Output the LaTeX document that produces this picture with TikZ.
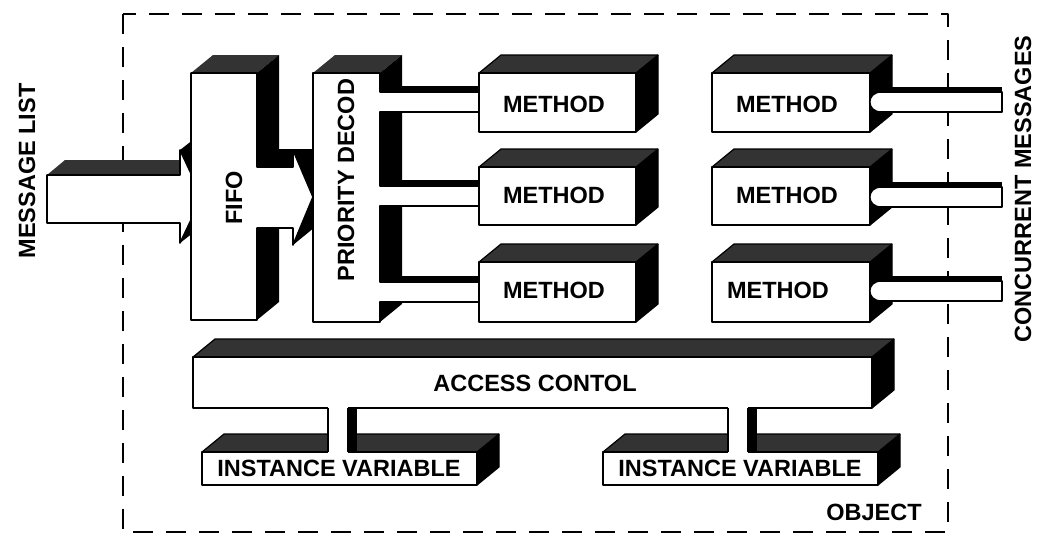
\documentclass[tikz,border=0pt]{standalone}
\usepackage{fontspec}
\setmainfont{Liberation Sans}
\newcommand{\solidbox}[4]{%
  \fill[sidefill] (#3,#2) -- ++(22,-18) -- (#3+22,#4-18) -- (#3,#4) -- cycle;
  \fill[topfill] (#1,#2) -- ++(22,-18) -- (#3+22,#2-18) -- (#3,#2) -- cycle;
  \draw[edgeline] (#1,#2) -- ++(22,-18) -- (#3+22,#2-18) -- (#3+22,#4-18) -- (#3,#4);
  \draw[edgeline] (#3,#2) -- ++(22,-18);
  \filldraw[frontface] (#1,#2) rectangle (#3,#4);
}
\begin{document}
\begin{tikzpicture}[x=1pt, y=-1pt, line join=round,
    every node/.style={font=\fontsize{23.5}{27}\selectfont\bfseries, inner sep=0pt},
    frontface/.style={fill=white, draw=black, line width=1.6pt},
    topfill/.style={fill=black!80},
    sidefill/.style={fill=black},
    edgeline/.style={draw=black, line width=1.2pt}]
    \useasboundingbox (0,0) rectangle (1039,546);
    \fill[white] (0,0) rectangle (1039,546);
    \draw[line width=1.4pt, dash pattern=on 20pt off 13pt] (123,14) rectangle (948,532);
    % message list arrow
    \fill[topfill] (47,175) -- (65,160) -- (190,160) -- (190,175) -- cycle;
    \fill[sidefill] (180,150) -- (198,136) -- (220,183) -- (198,229) -- (180,243) -- (202,197) -- cycle;
    \filldraw[frontface] (47,175) -- (180,175) -- (180,150) -- (202,197) -- (180,243) -- (180,223) -- (47,223) -- cycle;
    % fifo
    \fill[topfill] (191,73) -- (213,55) -- (279,55) -- (257,73) -- cycle;
    \fill[sidefill] (257,73) -- (279,55) -- (279,302) -- (257,320) -- cycle;
    \fill[sidefill] (257,167) -- (279,149) -- (315,149) -- (315,132) -- (335,179) -- (315,227) -- (293,245) -- (293,167) -- cycle;
    \filldraw[frontface] (191,73) -- (257,73) -- (257,167) -- (293,167) -- (293,150) -- (313,197) -- (293,245)
        -- (293,228) -- (257,228) -- (257,320) -- (191,320) -- cycle;
    % priority decoder
    \fill[topfill] (313,73) -- (335,55) -- (402,55) -- (380,73) -- cycle;
    \fill[sidefill] (380,73) -- (402,55) -- (402,304) -- (380,322) -- cycle;
    \foreach \c in {102,196,292}
        \fill[sidefill] (380,\c-16) rectangle (482,\c-10);
    \filldraw[frontface] (313,73) -- (380,73) -- (380,92) -- (482,92) -- (482,112) -- (380,112) -- (380,186)
        -- (482,186) -- (482,206) -- (380,206) -- (380,282) -- (482,282) -- (482,302) -- (380,302)
        -- (380,322) -- (313,322) -- cycle;
    % methods
    \solidbox{479}{73}{636}{132}
    \solidbox{479}{167}{636}{225}
    \solidbox{479}{262}{636}{322}
    \solidbox{712}{73}{870}{132}
    \solidbox{712}{167}{870}{225}
    \solidbox{712}{262}{870}{322}
    \foreach \c in {102,197,291} {
        \fill[sidefill] (884,\c-15) rectangle (1002,\c-10);
        \filldraw[frontface] (1002,\c-10) -- (881,\c-10) .. controls (866,\c-10) and (866,\c+10) .. (881,\c+10)
            -- (1002,\c+10) -- cycle;
    }
    % access control and variables
    \solidbox{193}{357}{872}{408}
    \solidbox{202}{452}{477}{485}
    \solidbox{603}{452}{878}{485}
    \foreach \x in {328,728} {
        \fill[sidefill] (\x+20,408) rectangle (\x+29,452);
        \fill[white] (\x,406) rectangle (\x+20,453);
        \draw[frontface] (\x,408) -- (\x,452);
        \draw[frontface] (\x+20,408) -- (\x+20,452);
    }
    \node (list) at (27,171) [rotate=90] {MESSAGE LIST};
    \node (fifo) at (234,198) [rotate=90] {FIFO};
    \node (decod) at (346,180) [rotate=90] {PRIORITY DECOD};
    \node (ml1) at (554,104) {METHOD};
    \node (ml2) at (554,195) {METHOD};
    \node (ml3) at (554,290) {METHOD};
    \node (mr1) at (787,104) {METHOD};
    \node (mr2) at (787,195) {METHOD};
    \node (mr3) at (778,290) {METHOD};
    \node (access) at (535,383) {ACCESS CONTOL};
    \node (var1) at (339,468) {INSTANCE VARIABLE};
    \node (var2) at (740,468) {INSTANCE VARIABLE};
    \node (obj) at (874,512) {OBJECT};
    \node (concur) at (1023,189) [rotate=90] {CONCURRENT MESSAGES};
\end{tikzpicture}
\end{document}
